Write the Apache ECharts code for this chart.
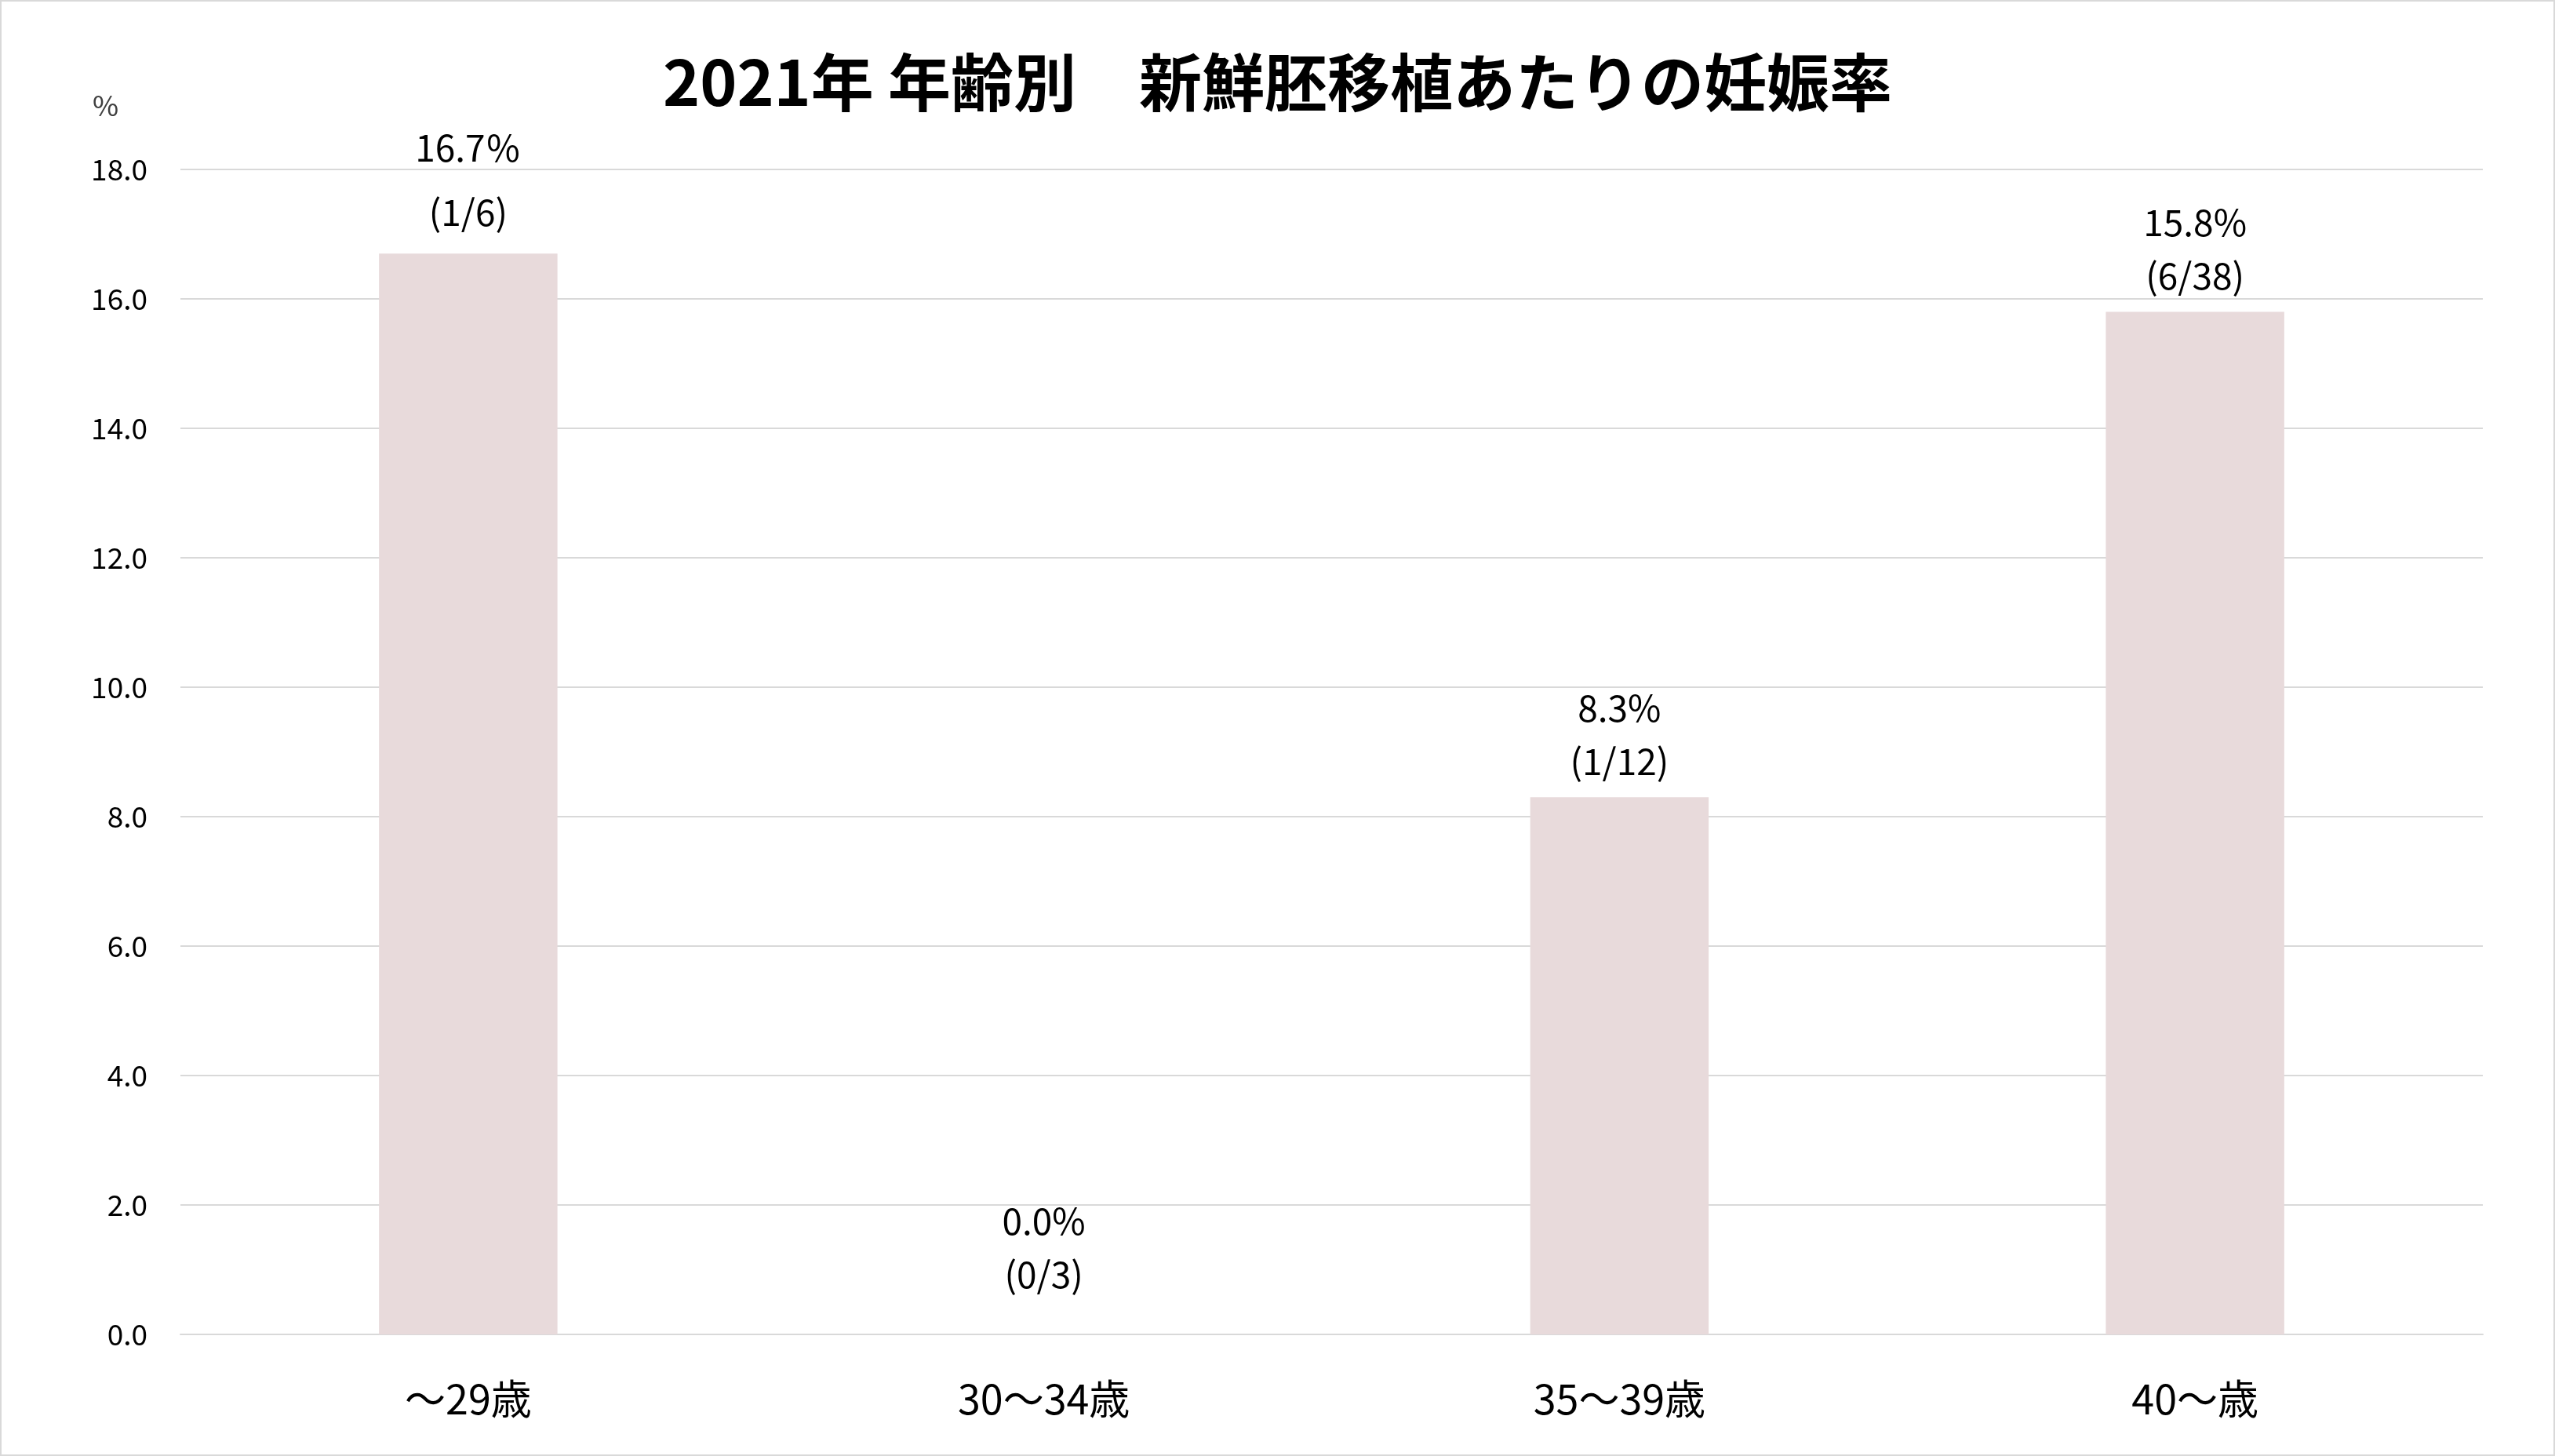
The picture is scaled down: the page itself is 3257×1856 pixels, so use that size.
<!DOCTYPE html>
<html><head><meta charset="utf-8">
<script src="https://cdn.jsdelivr.net/npm/echarts@6/dist/echarts.min.js"></script>
<style>html,body{margin:0;padding:0;background:#fff}#c{width:3257px;height:1856px;box-sizing:border-box;border:2px solid #d9d9d9}</style>
</head><body><div id="c"></div>
<script>
const categories = ['～29歳', '30～34歳', '35～39歳', '40～歳'];
const rates = [16.7, 0.0, 8.3, 15.8];
const labels = ['16.7％\n(1/6)', '0.0%\n(0/3)', '8.3%\n(1/12)', '15.8%\n(6/38)'];
const yTicks = [0, 2, 4, 6, 8, 10, 12, 14, 16, 18];
const font = '"Noto Sans CJK JP", "Noto Sans", sans-serif';
const chart = echarts.init(document.getElementById('c'));
chart.setOption({
  animation: false,
  textStyle: {fontFamily: font},
  title: {text: '2021年 年齢別　新鮮胚移植あたりの妊娠率', left: 'center', top: 58,
    textStyle: {fontSize: 80, fontWeight: 'bold', color: '#000', fontFamily: font}},
  graphic: [{type: 'text', left: 116, top: 114, style: {text: '%', fontSize: 36, fill: '#404040', fontFamily: font}}],
  grid: {left: 228, right: 90, top: 214, bottom: 153, containLabel: false},
  xAxis: {type: 'category', data: categories,
    axisLine: {lineStyle: {color: '#d9d9d9', width: 2}}, axisTick: {show: false},
    axisLabel: {fontSize: 52, color: '#000', margin: 56, fontFamily: font}},
  yAxis: {type: 'value', min: 0, max: 18, interval: 2,
    axisLine: {show: false}, axisTick: {show: false},
    splitLine: {lineStyle: {color: '#d9d9d9', width: 2}},
    axisLabel: {fontSize: 37, color: '#000', margin: 42, formatter: v => v.toFixed(1), fontFamily: font}},
  series: [{type: 'bar', barWidth: '31%',
    itemStyle: {color: '#E8DADB'},
    data: rates.map((v, i) => ({value: v, label: {
      show: true, position: 'top', distance: i === 1 ? 42 : 12,
      formatter: labels[i], fontSize: 46, lineHeight: i === 0 ? 82 : 68, color: '#000', fontFamily: font}}))
  }]
});
</script></body></html>
